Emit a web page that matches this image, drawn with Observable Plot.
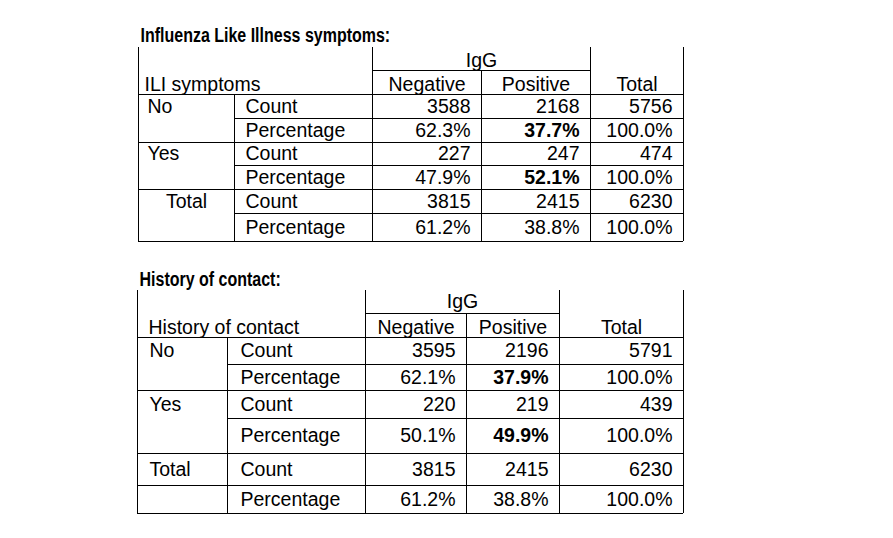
<!DOCTYPE html>
<html>
<head>
<meta charset="utf-8">
<script src="https://cdn.jsdelivr.net/npm/d3@7"></script>
<script src="https://cdn.jsdelivr.net/npm/@observablehq/plot@0.6"></script>
<style>
  html, body { margin: 0; padding: 0; background: #fff; }
</style>
</head>
<body>
<div id="chart"></div>
<script>
// ---------- DATA ----------
const tableTitles = ["Influenza Like Illness symptoms:", "History of contact:"];
const rowVariables = ["ILI symptoms", "History of contact"];
const columnGroup = "IgG";
const columnLabels = ["Negative", "Positive", "Total"];
const rowCategories = ["No", "Yes", "Total"];
const statLabels = ["Count", "Percentage"];

const iliNegativeCount = [3588, 227, 3815];
const iliPositiveCount = [2168, 247, 2415];
const iliTotalCount    = [5756, 474, 6230];
const iliNegativePct   = [62.3, 47.9, 61.2];
const iliPositivePct   = [37.7, 52.1, 38.8];
const iliTotalPct      = [100.0, 100.0, 100.0];

const contactNegativeCount = [3595, 220, 3815];
const contactPositiveCount = [2196, 219, 2415];
const contactTotalCount    = [5791, 439, 6230];
const contactNegativePct   = [62.1, 50.1, 61.2];
const contactPositivePct   = [37.9, 49.9, 38.8];
const contactTotalPct      = [100.0, 100.0, 100.0];

// ---------- LAYOUT (page geometry, kept apart from the data) ----------
const W = 893, H = 538;
const layouts = [
  { titleY: 41, top: 47, igLine: 70, igY: 66, headY: 90,
    cols: [138, 234, 372, 481, 590, 683],
    rows: [94, 118, 142, 165, 189, 213, 241],
    headX: 144, labelX: 147, statX: 245, totalCentered: true, fullLineAfterTotalCount: false },
  { titleY: 285, top: 290, igLine: 313, igY: 307, headY: 333,
    cols: [137, 227, 365, 466, 559, 683],
    rows: [337, 364, 390, 418, 453, 485, 513],
    headX: 148, labelX: 149, statX: 240, totalCentered: false, fullLineAfterTotalCount: true }
];
const pad = 11;
const narrowFactor = 0.82;

const tables = [
  { counts: [iliNegativeCount, iliPositiveCount, iliTotalCount],
    pcts: [iliNegativePct, iliPositivePct, iliTotalPct] },
  { counts: [contactNegativeCount, contactPositiveCount, contactTotalCount],
    pcts: [contactNegativePct, contactPositivePct, contactTotalPct] }
];

const fmtPct = v => d3.format(".1f")(v) + "%";

const texts = [];
const hRules = [];
const vRules = [];

tables.forEach((tb, t) => {
  const L = layouts[t];
  const [c0, c1, c2, c3, c4, c5] = L.cols;
  const R = L.rows;
  const bottom = R[R.length - 1];

  texts.push({x: c0 + 2, y: L.titleY, text: tableTitles[t], anchor: "start", line: "bottom", title: true});
  texts.push({x: (c2 + c4) / 2, y: L.igY, text: columnGroup, anchor: "middle", line: "bottom"});
  texts.push({x: L.headX, y: L.headY, text: rowVariables[t], anchor: "start", line: "bottom"});
  const colEdges = [[c2, c3], [c3, c4], [c4, c5]];
  columnLabels.forEach((lab, j) => {
    texts.push({x: (colEdges[j][0] + colEdges[j][1]) / 2, y: L.headY, text: lab, anchor: "middle", line: "bottom"});
  });

  rowCategories.forEach((cat, i) => {
    const yTop = R[2 * i], yMid = R[2 * i + 1], yBot = R[2 * i + 2];
    const cy1 = (yTop + yMid) / 2, cy2 = (yMid + yBot) / 2;
    const isTotal = i === rowCategories.length - 1;
    if (isTotal && L.totalCentered) {
      texts.push({x: (c0 + c1) / 2, y: cy1, text: cat, anchor: "middle", line: "middle"});
    } else {
      texts.push({x: L.labelX, y: cy1, text: cat, anchor: "start", line: "middle"});
    }
    texts.push({x: L.statX, y: cy1, text: statLabels[0], anchor: "start", line: "middle"});
    texts.push({x: L.statX, y: cy2, text: statLabels[1], anchor: "start", line: "middle"});
    colEdges.forEach((e, j) => {
      texts.push({x: e[1] - pad, y: cy1, text: String(tb.counts[j][i]), anchor: "end", line: "middle"});
      texts.push({x: e[1] - pad, y: cy2, text: fmtPct(tb.pcts[j][i]), anchor: "end", line: "middle",
                  bold: j === 1 && !isTotal});
    });

    hRules.push({y: yMid, x1: (isTotal && L.fullLineAfterTotalCount) ? c0 : c1, x2: c5});
    hRules.push({y: yBot, x1: c0, x2: c5});
  });
  hRules.push({y: R[0], x1: c0, x2: c5});
  hRules.push({y: L.igLine, x1: c2, x2: c4});

  vRules.push({x: c0, y1: L.top, y2: bottom});
  vRules.push({x: c1, y1: R[0], y2: bottom});
  vRules.push({x: c2, y1: L.top, y2: bottom});
  vRules.push({x: c3, y1: L.igLine, y2: bottom});
  vRules.push({x: c4, y1: L.top, y2: bottom});
  vRules.push({x: c5, y1: L.top, y2: bottom});
});

const bodyFont = "'Liberation Sans', Arial, Helvetica, sans-serif";
const fs = 19.5;

function textMark(filter, anchor, line, opts = {}) {
  return Plot.text(texts.filter(d => d.anchor === anchor && d.line === line && filter(d)), {
    x: "x", y: "y", text: "text", textAnchor: anchor, lineAnchor: line,
    fontSize: fs, fill: "#000", fontFamily: bodyFont, ...opts
  });
}

const chart = Plot.plot({
  width: W, height: H, margin: 0,
  x: {type: "linear", domain: [0, W], range: [0, W], axis: null},
  y: {type: "linear", domain: [0, H], range: [0, H], axis: null},
  style: {background: "#fff", fontFamily: bodyFont},
  marks: [
    Plot.ruleY(hRules, {y: "y", x1: "x1", x2: "x2", stroke: "#000", strokeWidth: 1}),
    Plot.ruleX(vRules, {x: "x", y1: "y1", y2: "y2", stroke: "#000", strokeWidth: 1}),
    textMark(d => d.title, "start", "bottom", {fontWeight: "bold", className: "tbl-title"}),
    textMark(d => !d.title, "start", "bottom"),
    textMark(d => true, "middle", "bottom"),
    textMark(d => true, "start", "middle"),
    textMark(d => true, "middle", "middle"),
    textMark(d => !d.bold, "end", "middle"),
    textMark(d => d.bold, "end", "middle", {fontWeight: "bold"})
  ]
});
document.getElementById("chart").appendChild(chart);

// condensed (Arial Narrow–like) look for the bold titles
d3.select(chart).selectAll(".tbl-title text").each(function () {
  const w = this.getComputedTextLength();
  this.setAttribute("textLength", w * narrowFactor);
  this.setAttribute("lengthAdjust", "spacingAndGlyphs");
});
</script>
</body>
</html>
